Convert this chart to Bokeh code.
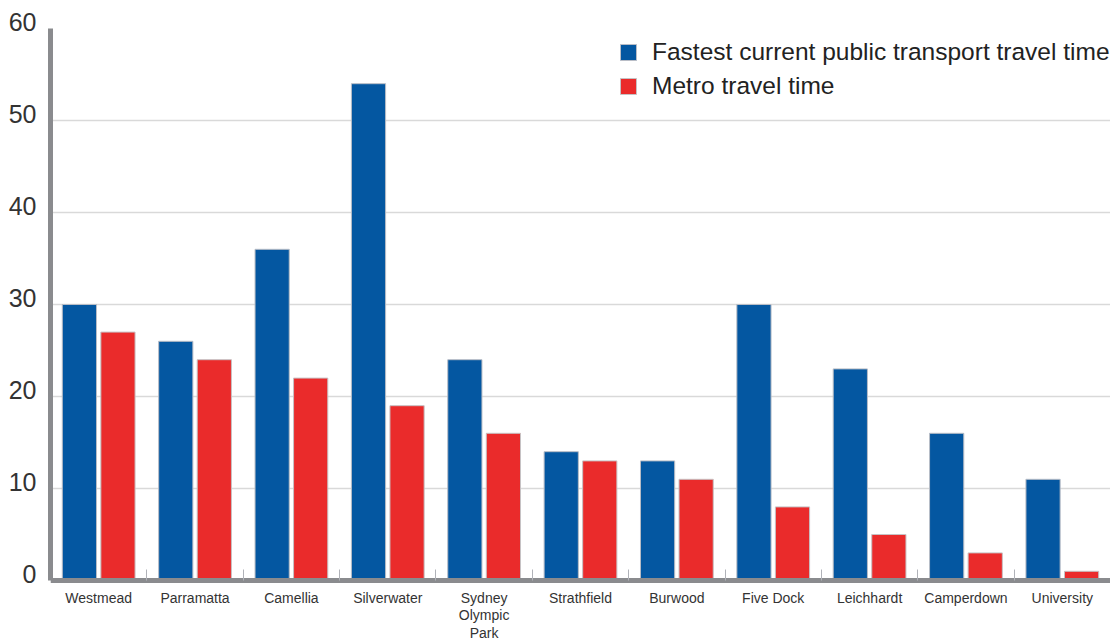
import numpy as np
from bokeh.plotting import figure
from bokeh.models import ColumnDataSource, FixedTicker, Range1d, Legend, LegendItem
from bokeh.embed import file_html
from bokeh.resources import INLINE

categories = ["Westmead", "Parramatta", "Camellia", "Silverwater", "Sydney\nOlympic\nPark",
              "Strathfield", "Burwood", "Five Dock", "Leichhardt", "Camperdown", "University"]
current_pt = [30, 26, 36, 54, 24, 14, 13, 30, 23, 16, 11]
metro = [27, 24, 22, 19, 16, 13, 11, 8, 5, 3, 1]
y_ticks = [0, 10, 20, 30, 40, 50, 60]
series_names = ["Fastest current public transport travel time", "Metro travel time"]

FONT = "Liberation Sans"
BLUE = "#0457a1"
RED = "#ea2b2b"
AXIS = "#8a8b8e"
TXT = "#333333"

# frame: 0..60 occupies 552 px; 59 px below y=0 are kept inside the frame for the
# category labels of the pinned x axis
Y_MAX = 60
Y_MIN = -Y_MAX * 59 / 552

n = len(categories)
centers = np.arange(n) + 0.5
src = ColumnDataSource(dict(
    xb=centers - 0.2, xr=centers + 0.2,
    cur=current_pt, met=metro,
))

p = figure(width=1110, height=639, output_backend="svg", toolbar_location=None,
           x_range=Range1d(0, n), y_range=Range1d(Y_MIN, Y_MAX),
           min_border_left=50, min_border_right=0, min_border_top=28, min_border_bottom=0)
p.outline_line_color = None
p.background_fill_color = "white"
p.border_fill_color = "white"

rb = p.vbar(x="xb", top="cur", width=0.355, source=src, fill_color=BLUE,
            line_color="#b9bdc6", line_width=1)
rr = p.vbar(x="xr", top="met", width=0.355, source=src, fill_color=RED,
            line_color="#c6c2c4", line_width=1)

# y axis (labels sit slightly above their gridlines, as in the original)
p.yaxis.ticker = FixedTicker(ticks=y_ticks)
p.yaxis.bounds = (0, Y_MAX)
p.yaxis.major_label_overrides = {float(v): f"{v}\n" for v in y_ticks}
p.yaxis.major_label_text_line_height = 0.45
p.yaxis.axis_line_color = AXIS
p.yaxis.axis_line_width = 5
p.yaxis.major_tick_out = 0
p.yaxis.major_tick_in = 0
p.yaxis.minor_tick_line_color = None
p.yaxis.major_label_text_font = FONT
p.yaxis.major_label_text_font_size = "25px"
p.yaxis.major_label_text_color = TXT
p.yaxis.major_label_standoff = 14

# x axis pinned at y=0
p.xaxis.fixed_location = 0
p.xaxis.ticker = FixedTicker(ticks=list(centers), minor_ticks=list(range(1, n)))
p.xaxis.major_label_overrides = {float(c): lab for c, lab in zip(centers, categories)}
p.xaxis.axis_line_color = AXIS
p.xaxis.axis_line_width = 5
p.xaxis.major_tick_line_color = None
p.xaxis.minor_tick_in = 11
p.xaxis.minor_tick_out = 0
p.xaxis.minor_tick_line_color = "#b0b2b8"
p.xaxis.minor_tick_line_width = 1
p.xaxis.major_label_text_font = FONT
p.xaxis.major_label_text_font_size = "14px"
p.xaxis.major_label_text_color = TXT
p.xaxis.major_label_text_line_height = 1.1
p.xaxis.major_label_standoff = 3

p.xgrid.grid_line_color = None
p.ygrid.ticker = FixedTicker(ticks=y_ticks)
p.ygrid.grid_line_color = "#d9d9d9"
p.ygrid.grid_line_width = 1.5

legend = Legend(items=[LegendItem(label=series_names[0], renderers=[rb]),
                       LegendItem(label=series_names[1], renderers=[rr])],
                location=(568, 539))
legend.label_text_font = FONT
legend.label_text_font_size = "24.5px"
legend.label_text_color = "#222222"
legend.glyph_width = 20
legend.glyph_height = 20
legend.label_height = 20
legend.label_standoff = 14
legend.spacing = 6
legend.padding = 0
legend.margin = 0
legend.border_line_color = None
legend.background_fill_alpha = 0
p.add_layout(legend)

open("out.html", "w").write(file_html(p, INLINE))
